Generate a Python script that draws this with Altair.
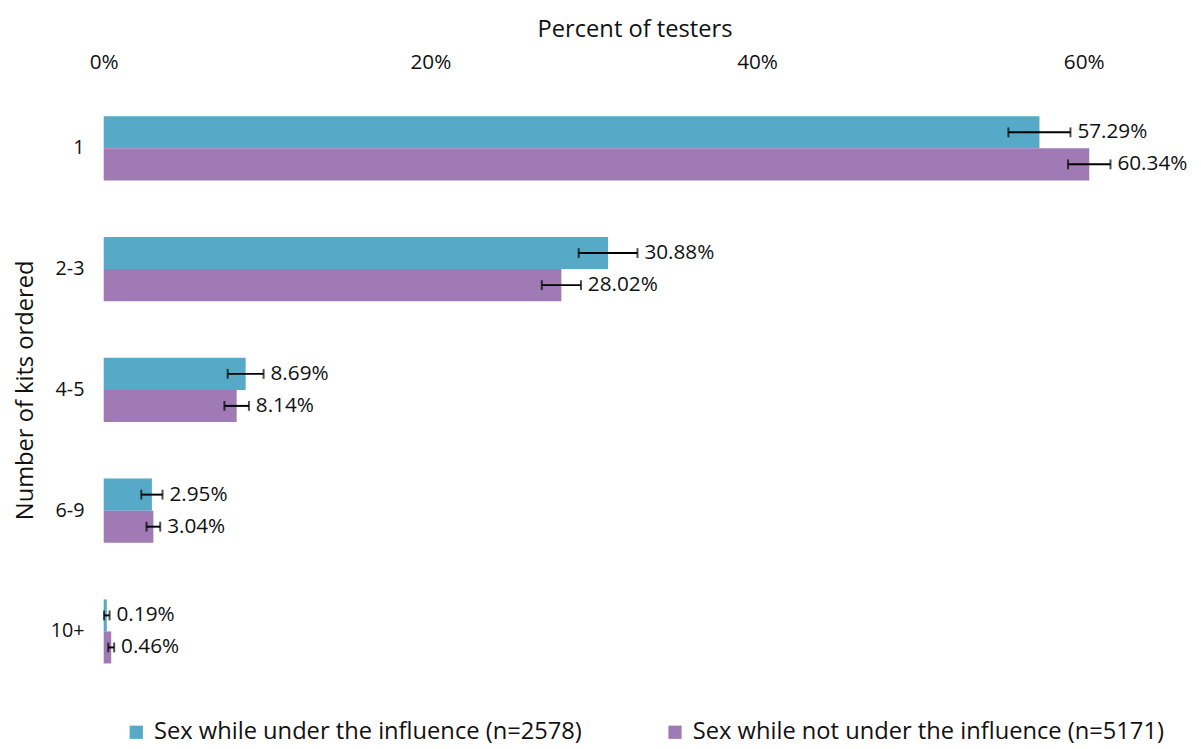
import altair as alt
import pandas as pd

categories = ["1", "2-3", "4-5", "6-9", "10+"]
series = ["Sex while under the influence (n=2578)", "Sex while not under the influence (n=5171)"]
under = [57.29, 30.88, 8.69, 2.95, 0.19]
not_under = [60.34, 28.02, 8.14, 3.04, 0.46]
under_ci = [1.9, 1.8, 1.1, 0.65, 0.17]
not_under_ci = [1.3, 1.2, 0.75, 0.42, 0.18]

rows = []
for i, c in enumerate(categories):
    rows.append(dict(cat=c, series=series[0], value=under[i], ci=under_ci[i]))
    rows.append(dict(cat=c, series=series[1], value=not_under[i], ci=not_under_ci[i]))
df = pd.DataFrame(rows)
df["lo"] = df["value"] - df["ci"]
df["hi"] = df["value"] + df["ci"]
df["label"] = df["value"].map(lambda v: f"{v:.2f}%")

FONT = "Open Sans"
colors = ["#56AAC7", "#9F7AB4"]

y_enc = alt.Y("cat:N", sort=categories, title="Number of kits ordered",
              scale=alt.Scale(paddingInner=0, paddingOuter=0),
              axis=alt.Axis(labelFontSize=20, titleFontSize=24, labelPadding=20,
                            ticks=False, domain=False, titlePadding=13,
                            labelColor="#111", titleColor="#111", titleFontWeight="normal"))
yoff = alt.YOffset("series:N", sort=series,
                   scale=alt.Scale(paddingOuter=0.885, paddingInner=0))

base = alt.Chart(df)

bars = base.mark_bar().encode(
    x=alt.X("value:Q", scale=alt.Scale(domain=[0, 65], nice=False),
            title="Percent of testers",
            axis=alt.Axis(orient="top", values=[0, 20, 40, 60], labelExpr="datum.value + '%'",
                          grid=False, ticks=False, domain=False, labelFontSize=21,
                          titleFontSize=24, labelPadding=16, titlePadding=10,
                          labelColor="#111", titleColor="#111", titleFontWeight="normal",
                          labelFlush=False)),
    y=y_enc,
    yOffset=yoff,
    color=alt.Color("series:N", sort=series, scale=alt.Scale(domain=series, range=colors),
                    legend=alt.Legend(orient="none", legendX=21, legendY=641,
                                      direction="horizontal", title=None,
                                      labelFontSize=24, symbolType="square", symbolSize=180,
                                      symbolStrokeWidth=0, columnPadding=82, labelColor="#111",
                                      labelFont=FONT, labelLimit=0, labelOffset=6)),
)

rules = base.mark_rule(color="black", strokeWidth=2).encode(
    x="lo:Q", x2="hi:Q", y=alt.Y("cat:N", sort=categories), yOffset=yoff)
cap_lo = base.mark_tick(color="black", thickness=2, size=10, orient="vertical").encode(
    x="lo:Q", y=alt.Y("cat:N", sort=categories), yOffset=yoff)
cap_hi = base.mark_tick(color="black", thickness=2, size=10, orient="vertical").encode(
    x="hi:Q", y=alt.Y("cat:N", sort=categories), yOffset=yoff)
labels = base.mark_text(align="left", baseline="middle", dx=7, fontSize=21, font=FONT,
                        color="#111").encode(
    x="hi:Q", y=alt.Y("cat:N", sort=categories), yOffset=yoff, text="label:N")

chart = alt.layer(bars, rules, cap_lo, cap_hi, labels).properties(
    width=1076, height=612
).configure(
    font=FONT,
    view=alt.ViewConfig(stroke="transparent", strokeWidth=0),
    axis=alt.AxisConfig(labelFont=FONT, titleFont=FONT),
)

chart.save("out.html", embed_options={"renderer": "svg", "actions": False})
